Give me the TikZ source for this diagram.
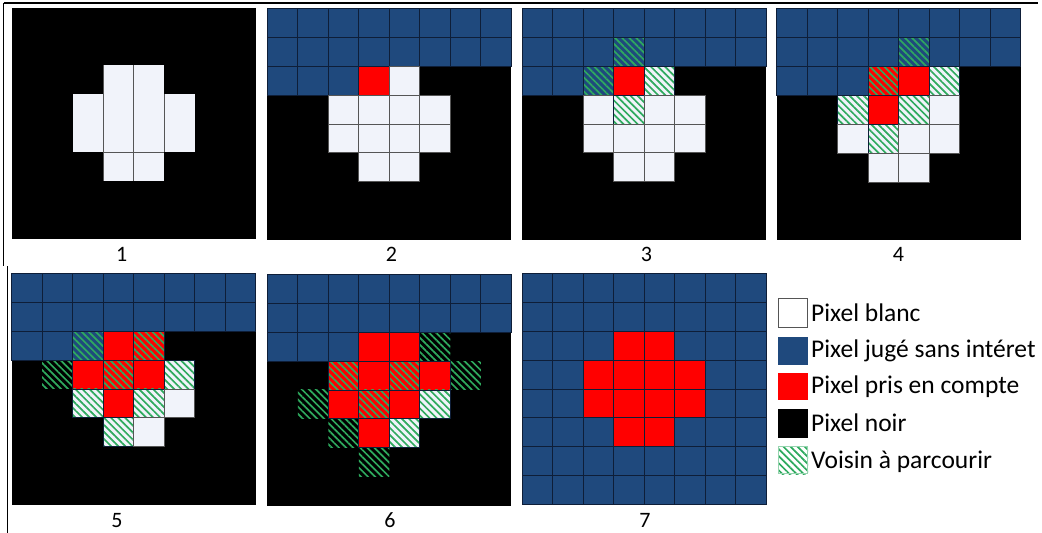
\documentclass[tikz,border=0pt]{standalone}
\usepackage{fontspec}
\setmainfont{Carlito}
\usetikzlibrary{patterns.meta}
\definecolor{pblue}{HTML}{1F497D}
\definecolor{pnavy}{HTML}{0E1E38}
\definecolor{pwhite}{HTML}{F1F3FA}
\definecolor{pred}{HTML}{FF0000}
\definecolor{pgreen}{HTML}{2EAA5E}
\definecolor{pgray}{HTML}{555555}
\tikzset{
  hatch/.style={pattern={Lines[angle=-45,distance=5pt,line width=1.7pt]}, pattern color=pgreen, fill opacity=0.7},
  fillK/.style={fill=black}, fillB/.style={fill=pblue}, fillR/.style={fill=pred},
  fillW/.style={fill=pwhite}, fillV/.style={fill=pwhite},
  fillh/.style={fill=pwhite}, fillb/.style={fill=pblue}, fillr/.style={fill=pred}, fillk/.style={fill=black},
  hatchK/.style={}, hatchB/.style={}, hatchR/.style={}, hatchW/.style={}, hatchV/.style={},
  hatchh/.style={hatch}, hatchb/.style={hatch}, hatchr/.style={hatch}, hatchk/.style={hatch},
  lineK/.style={}, lineV/.style={}, linek/.style={},
  lineB/.style={draw=pnavy}, lineR/.style={draw=pnavy}, lineW/.style={draw=pgray},
  lineh/.style={draw=pnavy}, lineb/.style={draw=pnavy}, liner/.style={draw=pnavy},
  lbl/.style={font=\fontsize{22}{25}\selectfont, inner sep=0pt, anchor=base},
  legtxt/.style={font=\fontsize{25.5}{29}\selectfont, inner sep=0pt, anchor=base west},
  frame/.style={line width=1.4pt, draw=black},
}
\newcommand\pixpanel[3]{%
  \foreach \rw [count=\j from 0] in {#3}{%
    \foreach \c [count=\i from 0] in \rw {%
      \path[fill\c] ({#1+\i*30.5},{#2+\j*28.9}) rectangle ++(30.5,28.9);
    }}%
  \foreach \rw [count=\j from 0] in {#3}{%
    \foreach \c [count=\i from 0] in \rw {%
      \path[hatch\c] ({#1+\i*30.5},{#2+\j*28.9}) rectangle ++(30.5,28.9);
    }}%
  \foreach \rw [count=\j from 0] in {#3}{%
    \foreach \c [count=\i from 0] in \rw {%
      \path[line\c, line width=0.8pt] ({#1+\i*30.5},{#2+\j*28.9}) rectangle ++(30.5,28.9);
    }}%
}
\begin{document}
\begin{tikzpicture}[x=1pt,y=-1pt]
\useasboundingbox[fill=white] (0,0) rectangle (1042,533);
% frame
\draw[frame] (3.5,3) -- (1038,3);
\draw[frame] (3.5,3) -- (3.5,266);
\draw[frame] (7.3,266) -- (7.3,533);
% panel 1
\pixpanel{11.7}{7.5}{
 {K,K,K,K,K,K,K,K},
 {K,K,K,K,K,K,K,K},
 {K,K,K,V,V,K,K,K},
 {K,K,V,V,V,V,K,K},
 {K,K,V,V,V,V,K,K},
 {K,K,K,V,V,K,K,K},
 {K,K,K,K,K,K,K,K},
 {K,K,K,K,K,K,K,K}}
\draw[pgray, line width=0.8pt] ({11.7+3*30.5},{7.5+2*28.9}) -- ({11.7+3*30.5},{7.5+6*28.9});
\draw[pgray, line width=0.8pt] ({11.7+4*30.5},{7.5+2*28.9}) -- ({11.7+4*30.5},{7.5+6*28.9});
\draw[pgray, line width=0.8pt] ({11.7+5*30.5},{7.5+3*28.9}) -- ({11.7+5*30.5},{7.5+5*28.9});
\draw[pgray, line width=0.8pt] ({11.7+3*30.5},{7.5+5*28.9}) -- ({11.7+5*30.5},{7.5+5*28.9});
% panel 2
\pixpanel{267.3}{8.3}{
 {B,B,B,B,B,B,B,B},
 {B,B,B,B,B,B,B,B},
 {B,B,B,R,W,K,K,K},
 {K,K,W,W,W,W,K,K},
 {K,K,W,W,W,W,K,K},
 {K,K,K,W,W,K,K,K},
 {K,K,K,K,K,K,K,K},
 {K,K,K,K,K,K,K,K}}
% panel 3
\pixpanel{522.3}{8.3}{
 {B,B,B,B,B,B,B,B},
 {B,B,B,b,B,B,B,B},
 {B,B,b,R,h,K,K,K},
 {K,K,W,h,W,W,K,K},
 {K,K,W,W,W,W,K,K},
 {K,K,K,W,W,K,K,K},
 {K,K,K,K,K,K,K,K},
 {K,K,K,K,K,K,K,K}}
% panel 4
\pixpanel{776.7}{8.8}{
 {B,B,B,B,B,B,B,B},
 {B,B,B,B,b,B,B,B},
 {B,B,B,r,R,h,K,K},
 {K,K,h,R,h,W,K,K},
 {K,K,W,h,W,W,K,K},
 {K,K,K,W,W,K,K,K},
 {K,K,K,K,K,K,K,K},
 {K,K,K,K,K,K,K,K}}
% panel 5
\pixpanel{11.7}{273.3}{
 {B,B,B,B,B,B,B,B},
 {B,B,B,B,B,B,B,B},
 {B,B,b,R,r,K,K,K},
 {K,k,R,r,R,h,K,K},
 {K,K,h,R,h,W,K,K},
 {K,K,K,h,W,K,K,K},
 {K,K,K,K,K,K,K,K},
 {K,K,K,K,K,K,K,K}}
% panel 6
\pixpanel{267.3}{274.3}{
 {B,B,B,B,B,B,B,B},
 {B,B,B,B,B,B,B,B},
 {B,B,B,R,R,k,K,K},
 {K,K,r,R,r,R,k,K},
 {K,k,R,r,R,h,K,K},
 {K,K,k,R,h,K,K,K},
 {K,K,K,k,K,K,K,K},
 {K,K,K,K,K,K,K,K}}
% panel 7
\pixpanel{522.3}{273.3}{
 {B,B,B,B,B,B,B,B},
 {B,B,B,B,B,B,B,B},
 {B,B,B,R,R,B,B,B},
 {B,B,R,R,R,R,B,B},
 {B,B,R,R,R,R,B,B},
 {B,B,B,R,R,B,B,B},
 {B,B,B,B,B,B,B,B},
 {B,B,B,B,B,B,B,B}}
% labels
\node[lbl] (l1) at (121.7,261.5) {1};
\node[lbl] (l2) at (391.5,261.5) {2};
\node[lbl] (l3) at (646.5,261.5) {3};
\node[lbl] (l4) at (898.5,261.5) {4};
\node[lbl] (l5) at (117,527) {5};
\node[lbl] (l6) at (390,527.5) {6};
\node[lbl] (l7) at (645,527) {7};
% legend
\path[fill=white, draw=pgray, line width=0.8pt] (778.5,298.5) rectangle (807.5,327);
\path[fill=pblue] (778,337) rectangle (808,365);
\path[fill=pred] (778,373) rectangle (808,400);
\path[fill=black] (778,409) rectangle (808,438);
\path[fill=white] (778,446) rectangle (808,474);
\path[hatch] (778,446) rectangle (808,474);
\path[draw=pgreen!50, line width=0.6pt] (778.3,446.3) rectangle (807.7,473.7);
\node[legtxt] (t1) at (811,321.5) {Pixel blanc};
\node[legtxt] (t2) at (811,357) {Pixel jugé sans intéret};
\node[legtxt] (t3) at (811,393) {Pixel pris en compte};
\node[legtxt] (t4) at (811,431.5) {Pixel noir};
\node[legtxt] (t5) at (811,468) {Voisin à parcourir};
\end{tikzpicture}
\end{document}
